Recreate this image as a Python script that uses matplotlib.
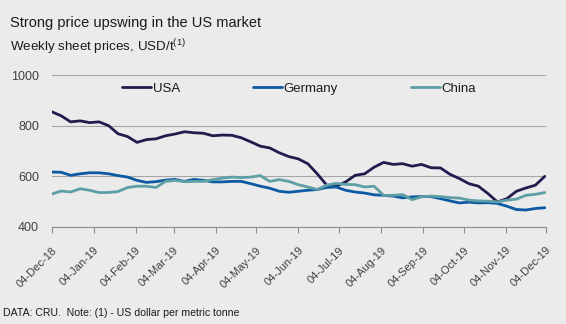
"""Weekly sheet prices: USA vs Germany vs China, Dec 2018 - Dec 2019."""

import matplotlib

matplotlib.use("Agg")

import matplotlib.dates as mdates
import matplotlib.pyplot as plt
import pandas as pd

START_DATE = "2018-12-04"
N_WEEKS = 53

usa = [855, 839, 815, 819, 812, 815, 800, 768, 757, 734, 745, 748, 760,
       767, 776, 772, 770, 760, 763, 762, 752, 736, 719, 712, 693, 678,
       669, 650, 610, 565, 561, 578, 604, 610, 636, 655, 647, 650, 640,
       647, 634, 633, 608, 591, 571, 561, 532, 499, 512, 541, 554, 565, 600]
germany = [617, 616, 604, 610, 614, 614, 610, 603, 597, 584, 576, 579, 585,
           588, 580, 588, 584, 578, 578, 580, 580, 571, 561, 553, 541, 537,
           541, 545, 548, 556, 558, 545, 538, 534, 527, 525, 522, 515, 519,
           520, 520, 512, 503, 495, 498, 495, 496, 493, 482, 469, 467, 473, 476]
china = [530, 542, 538, 551, 545, 536, 536, 540, 556, 561, 561, 556, 580,
         584, 579, 580, 580, 587, 593, 597, 595, 597, 603, 580, 587, 580,
         567, 558, 548, 565, 572, 568, 567, 558, 561, 525, 525, 528, 508,
         519, 522, 520, 516, 514, 506, 503, 502, 499, 506, 510, 525, 529, 536]

series_names = ["USA", "Germany", "China"]
series_colors = ["#221C4E", "#0B5AA2", "#5E9FA6"]

BG = "#EBEBEB"
TEXT = "#1A1A1A"
TICK_TEXT = "#404040"
GRID = "#A6A6A6"

plt.rcParams["font.family"] = ["Liberation Sans", "DejaVu Sans"]
plt.rcParams["mathtext.fontset"] = "custom"
plt.rcParams["mathtext.rm"] = "Liberation Sans"


def main() -> None:
    dates = pd.date_range(START_DATE, periods=N_WEEKS, freq="7D")
    frame = pd.DataFrame({"USA": usa, "Germany": germany, "China": china}, index=dates)

    fig = plt.figure(figsize=(5.66, 3.24), dpi=100, facecolor=BG)
    ax = fig.add_axes([0.0913, 0.2994, 0.8737, 0.4691], facecolor=BG)

    for name, color in zip(series_names, series_colors):
        ax.plot(frame.index, frame[name], color=color, lw=2.0,
                solid_capstyle="round", label=name, zorder=3)

    ax.set_ylim(400, 1000)
    ax.set_yticks([400, 600, 800, 1000])
    ax.set_xlim(dates[0], dates[-1])
    ticks = pd.date_range("2018-12-01", "2019-12-04", freq="MS") + pd.Timedelta(days=3)
    ax.set_xticks(ticks)
    ax.xaxis.set_major_formatter(mdates.DateFormatter("%d-%b-%y"))

    ax.grid(axis="y", color=GRID, lw=0.8, zorder=1)
    for side in ("top", "right", "left"):
        ax.spines[side].set_visible(False)
    ax.spines["bottom"].set_color("#8C8C8C")
    ax.spines["bottom"].set_linewidth(0.8)

    ax.tick_params(axis="y", length=0, labelsize=9, labelcolor=TICK_TEXT, pad=9)
    ax.tick_params(axis="x", length=4, width=0.8, color="#8C8C8C",
                   labelsize=8, labelcolor=TICK_TEXT, pad=9)
    for label in ax.get_xticklabels():
        label.set_rotation(45)
        label.set_ha("right")
        label.set_rotation_mode("anchor")

    fig.legend(loc="center left", bbox_to_anchor=(122 / 566, 1 - 89 / 324), ncol=3,
               frameon=False, fontsize=9.5, handlelength=2.2, handletextpad=0.15,
               columnspacing=5.5, borderpad=0, borderaxespad=0, labelcolor=TEXT)

    fig.text(10.5 / 566, 1 - 27 / 324, "Strong price upswing in the US market",
             fontsize=10.5, color=TEXT, va="baseline")
    fig.text(10 / 566, 1 - 51 / 324, "Weekly sheet prices, USD/t$^{\\mathrm{(1)}}$",
             fontsize=9.6, color=TEXT, va="baseline")
    fig.text(0.006, 0.033, "DATA: CRU.  Note: (1) - US dollar per metric tonne",
             fontsize=7.6, color=TEXT, va="center")

    fig.savefig("out.png", dpi=100, facecolor=BG)
    plt.close(fig)


if __name__ == "__main__":
    main()
